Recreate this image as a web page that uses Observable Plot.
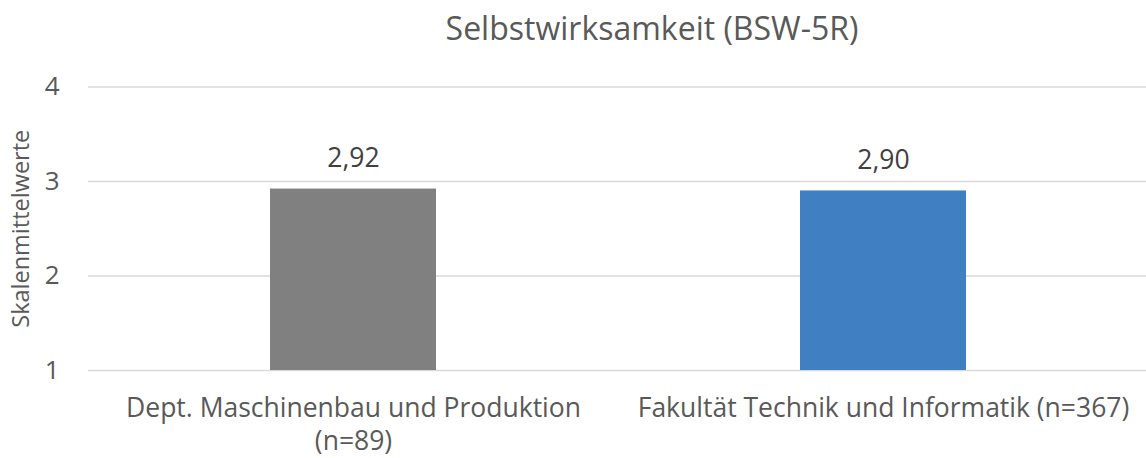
<!DOCTYPE html>
<html><head><meta charset="utf-8">
<script src="https://cdn.jsdelivr.net/npm/d3@7"></script>
<script src="https://cdn.jsdelivr.net/npm/@observablehq/plot@0.6"></script>
<style>
body{margin:0;background:#fff;font-family:"Open Sans",sans-serif;}
#title{width:1146px;height:56px;box-sizing:border-box;padding-left:158px;text-align:center;font-size:32px;color:#595959;line-height:56px;white-space:nowrap;}
#chart svg{display:block;}
</style></head><body>
<div id="title">Selbstwirksamkeit (BSW-5R)</div>
<div id="chart"></div>
<script>
const categories = ["Dept. Maschinenbau und Produktion\n(n=89)", "Fakultät Technik und Informatik (n=367)"];
const values = [2.92, 2.90];
const colors = ["#808080", "#4080C2"];
const yTicks = [1, 2, 3, 4];
const yLabel = "Skalenmittelwerte";
const yBase = 1;

const data = categories.map((c, i) => ({category: c, value: values[i], color: colors[i]}));
const fmt = v => v.toFixed(2).replace(".", ",");

const chart = Plot.plot({
  width: 1146,
  height: 402,
  marginTop: 30.5,
  marginBottom: 88,
  marginLeft: 88,
  marginRight: -3,
  style: {fontFamily: "Open Sans", background: "#fff"},
  x: {domain: categories, paddingInner: 0.686, paddingOuter: 0.343, axis: null},
  y: {domain: [1, 4], axis: null},
  marks: [
    Plot.gridY(yTicks, {stroke: "#d9d9d9", strokeOpacity: 1, strokeWidth: 1.5}),
    Plot.barY(data, {x: "category", y1: yBase, y2: "value", fill: "color"}),
    Plot.text(data, {x: "category", y: "value", text: d => fmt(d.value), lineAnchor: "bottom", dy: -22, fontSize: 26.5, fill: "#404040"}),
    Plot.axisY(yTicks, {tickSize: 0, tickPadding: 29, fontSize: 26, color: "#595959", label: null, tickFormat: d => String(d)}),
    Plot.axisY([], {tickSize: 0, fontSize: 23.5, color: "#595959", label: yLabel, labelAnchor: "center", labelArrow: "none", labelOffset: 76}),
    Plot.axisX({tickSize: 0, tickPadding: 23, fontSize: 26.5, color: "#595959", lineHeight: 1.24, label: null})
  ]
});
document.getElementById("chart").appendChild(chart);
</script>
</body></html>
